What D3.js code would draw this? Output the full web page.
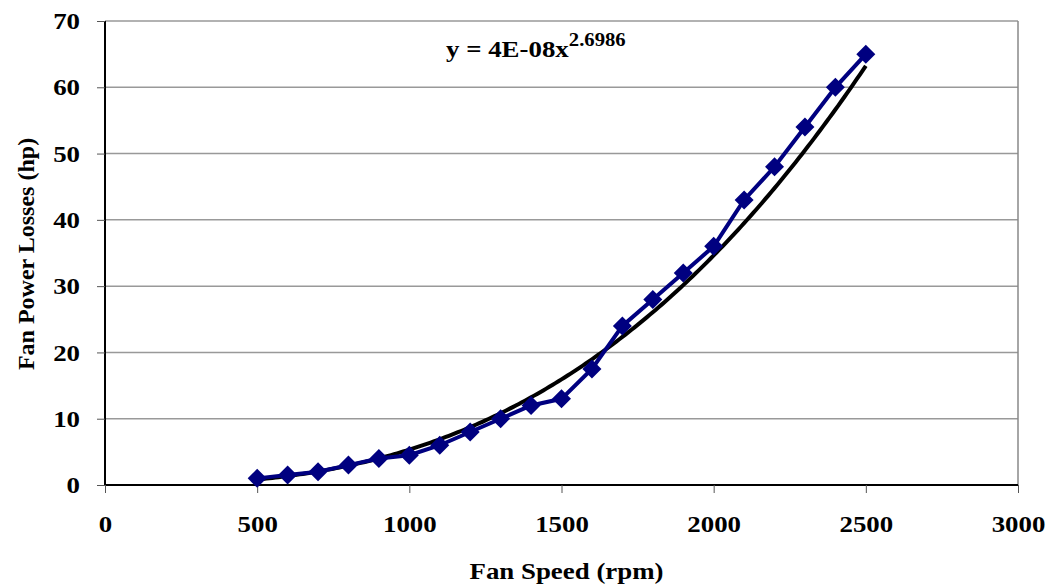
<!DOCTYPE html>
<html>
<head>
<meta charset="utf-8">
<script src="https://cdn.jsdelivr.net/npm/d3@7"></script>
<style>
  body { margin: 0; background: #fff; }
  text { font-family: "Liberation Serif", "Times New Roman", serif; font-weight: bold; }
</style>
</head>
<body>
<div id="chart"></div>
<script>
// fan speed (rpm) vs fan power losses (hp)
var speeds = [500, 600, 700, 800, 900, 1000, 1100, 1200, 1300, 1400, 1500,
              1600, 1700, 1800, 1900, 2000, 2100, 2200, 2300, 2400, 2500];
var losses = [1, 1.5, 2, 3, 4, 4.5, 6, 8, 10, 12, 13,
              17.5, 24, 28, 32, 36, 43, 48, 54, 60, 65];
var xTicks = [0, 500, 1000, 1500, 2000, 2500, 3000];
var yTicks = [0, 10, 20, 30, 40, 50, 60, 70];

var W = 1051, H = 588;
var plotL = 105, plotR = 1018, plotT = 21, plotB = 485;
// the source image is a bit stretched sideways, text too
var stretch = 1.12;

var svg = d3.select("#chart").append("svg")
	.attr("width", W).attr("height", H);

var x = d3.scaleLinear().domain([0, 3000]).range([plotL, plotR]);
var y = d3.scaleLinear().domain([0, 70]).range([plotB, plotT]);

// horizontal gridlines
svg.selectAll(".grid").data(yTicks.slice(1))
	.enter().append("line")
	.attr("x1", plotL).attr("x2", plotR)
	.attr("y1", function(d) { return y(d); })
	.attr("y2", function(d) { return y(d); })
	.style("stroke", "#999").style("stroke-width", 1.5);

// right border
svg.append("line")
	.attr("x1", plotR).attr("x2", plotR).attr("y1", plotT).attr("y2", plotB)
	.style("stroke", "#888").style("stroke-width", 1.5);

// axes
var yAxis = svg.append("g").attr("transform", "translate(" + plotL + ",0)")
	.call(d3.axisLeft(y).tickValues(yTicks).tickSize(8).tickPadding(17).tickFormat(d3.format("d")));
var xAxis = svg.append("g").attr("transform", "translate(0," + plotB + ")")
	.call(d3.axisBottom(x).tickValues(xTicks).tickSize(8).tickPadding(22).tickFormat(d3.format("d")));
[yAxis, xAxis].forEach(function(a) {
	a.select(".domain").style("stroke", "#000").style("stroke-width", 2);
	a.selectAll(".tick line").style("stroke", "#555");
	a.selectAll(".tick text").style("font-size", "24px").style("fill", "#000")
		.style("font-family", "Liberation Serif").style("font-weight", "bold");
});
xAxis.selectAll(".tick text").attr("transform", "scale(" + stretch + ",1)");
yAxis.selectAll(".tick text")
	.attr("x", -25 / stretch)
	.attr("transform", "scale(" + stretch + ",1)");
xAxis.select(".domain").attr("d", "M" + plotL + ",0H" + plotR);
yAxis.select(".domain").attr("d", "M0," + plotB + "V" + plotT);

// power trendline from log-log least squares
var lx = speeds.map(Math.log), ly = losses.map(Math.log);
var mx = d3.mean(lx), my = d3.mean(ly);
var b = d3.sum(lx, function(v, i) { return (v - mx) * (ly[i] - my); }) /
	d3.sum(lx, function(v) { return (v - mx) * (v - mx); });
var a = Math.exp(my - b * mx);
var fitX = d3.range(500, 2501, 10);

svg.append("path")
	.datum(fitX)
	.attr("d", d3.line().x(function(d) { return x(d); }).y(function(d) { return y(a * Math.pow(d, b)); }))
	.style("fill", "none").style("stroke", "#000").style("stroke-width", 4);

// data line + markers
var pts = speeds.map(function(s, i) { return [s, losses[i]]; });
svg.append("path")
	.datum(pts)
	.attr("d", d3.line().x(function(d) { return x(d[0]); }).y(function(d) { return y(d[1]); }))
	.style("fill", "none").style("stroke", "#000080").style("stroke-width", 4);

svg.selectAll(".pt").data(pts)
	.enter().append("path")
	.attr("class", "pt")
	.attr("transform", function(d) { return "translate(" + x(d[0]) + "," + y(d[1]) + ")"; })
	.attr("d", "M0,-9.5L9.5,0L0,9.5L-9.5,0Z")
	.style("fill", "#000080");

// equation
var eq = svg.append("text").attr("x", 0).attr("y", 0).style("font-size", "24px")
	.attr("transform", "translate(446,57) scale(" + stretch + ",1)");
eq.append("tspan").text("y = 4E-08x");
eq.append("tspan").attr("dy", -11).style("font-size", "18.5px").text("2.6986");

// axis titles
svg.append("text").attr("x", 0).attr("y", 0)
	.attr("transform", "translate(" + ((plotL + plotR) / 2 + 5) + ",579) scale(" + stretch + ",1)")
	.attr("text-anchor", "middle").style("font-size", "24px").text("Fan Speed (rpm)");
svg.append("text").attr("transform", "translate(34,254) rotate(-90)")
	.attr("text-anchor", "middle").style("font-size", "24px").text("Fan Power Losses (hp)");
</script>
</body>
</html>
